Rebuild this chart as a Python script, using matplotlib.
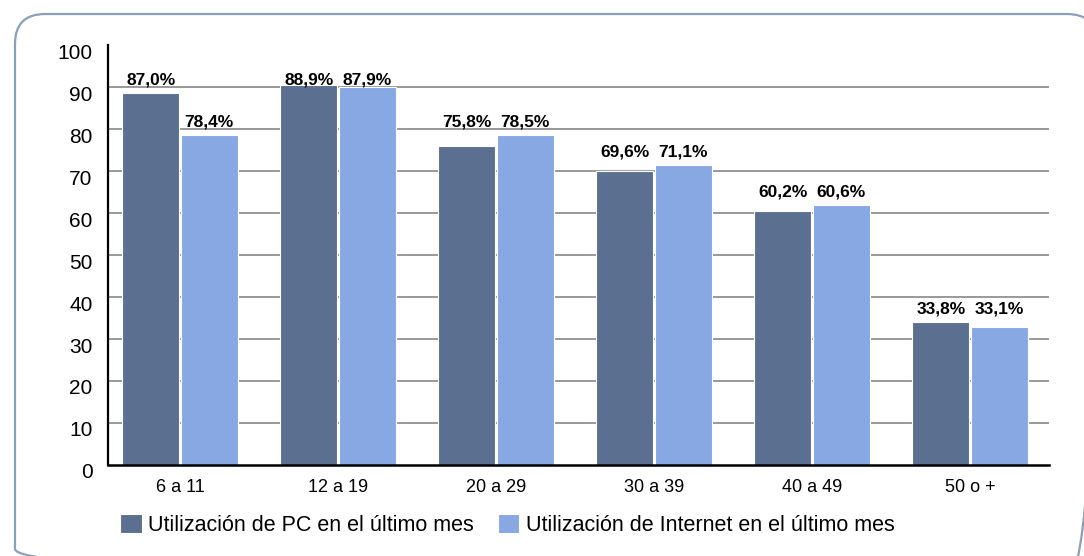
import numpy as np
import matplotlib
matplotlib.use("Agg")
import matplotlib.pyplot as plt
from matplotlib.patches import FancyBboxPatch
from matplotlib.transforms import ScaledTranslation

plt.rcParams['font.family'] = ['Liberation Sans', 'DejaVu Sans']

grupos = ['6 a 11', '12 a 19', '20 a 29', '30 a 39', '40 a 49', '50 o +']
# alturas de las barras
pc = [88.6, 90.5, 76.0, 70.0, 60.4, 34.0]
internet = [78.6, 90.0, 78.6, 71.4, 61.9, 32.9]
# etiquetas tal como aparecen
pc_lbl = ['87,0%', '88,9%', '75,8%', '69,6%', '60,2%', '33,8%']
internet_lbl = ['78,4%', '87,9%', '78,5%', '71,1%', '60,6%', '33,1%']

c_pc = '#5B7090'
c_int = '#87A8E3'

fig = plt.figure(figsize=(10.84, 5.56), dpi=100)

# marco redondeado (en pixeles)
fondo = fig.add_axes([0, 0, 1, 1])
fondo.set_xlim(0, 1084)
fondo.set_ylim(556, 0)
fondo.axis('off')
marco = FancyBboxPatch((15, 14), 1082, 565,
                       boxstyle="round,pad=0,rounding_size=30",
                       fill=False, edgecolor='#8C9FB8', linewidth=1.6,
                       clip_on=False)
fondo.add_patch(marco)

ax = fig.add_axes([108 / 1084, 1 - 465 / 556, (1049 - 108) / 1084, 420 / 556])

x = np.arange(len(grupos))
w = 0.36
ax.bar(x - 0.185, pc, w, color=c_pc, edgecolor='white', linewidth=0.8,
       label='Utilización de PC en el último mes', zorder=3)
ax.bar(x + 0.185, internet, w, color=c_int, edgecolor='white', linewidth=0.8,
       label='Utilización de Internet en el último mes', zorder=3)

for i in range(len(grupos)):
    if abs(pc[i] - internet[i]) < 5:
        y1 = y2 = max(pc[i], internet[i])
    else:
        y1, y2 = pc[i], internet[i]
    y1 = min(y1, 88.6)
    y2 = min(y2, 88.6)
    ax.annotate(pc_lbl[i], (x[i] - 0.185, y1), xytext=(0, 4), textcoords='offset points',
                ha='center', va='bottom', fontsize=12.5, fontweight='bold')
    ax.annotate(internet_lbl[i], (x[i] + 0.185, y2), xytext=(0, 4), textcoords='offset points',
                ha='center', va='bottom', fontsize=12.5, fontweight='bold')

ax.set_xlim(-0.456, 5.5)
ax.set_ylim(0, 100)
ax.set_yticks(range(0, 101, 10))
ax.set_xticks(x)
ax.set_xticklabels(grupos, fontsize=13)
ax.tick_params(axis='y', length=0, pad=11, labelsize=15)
ax.tick_params(axis='x', length=0, pad=10)

off = ScaledTranslation(0, -0.06, fig.dpi_scale_trans)
for lbl in ax.get_yticklabels():
    lbl.set_transform(lbl.get_transform() + off)

ax.yaxis.grid(True, color='#999999', linewidth=1.4, zorder=0)
ax.set_axisbelow(True)
gl = ax.get_ygridlines()
gl[-1].set_visible(False)
gl[0].set_visible(False)

for s in ['top', 'right']:
    ax.spines[s].set_visible(False)
ax.spines['left'].set_linewidth(1.6)
ax.spines['bottom'].set_linewidth(1.8)
ax.spines['left'].set_zorder(5)
ax.spines['bottom'].set_zorder(5)

fig.legend(loc='center', bbox_to_anchor=(0.468, 0.056), ncol=2, frameon=False,
           fontsize=15.5, handlelength=1.0, handleheight=1.0, handletextpad=0.3,
           columnspacing=1.1)

fig.savefig('out.png', dpi=100)
